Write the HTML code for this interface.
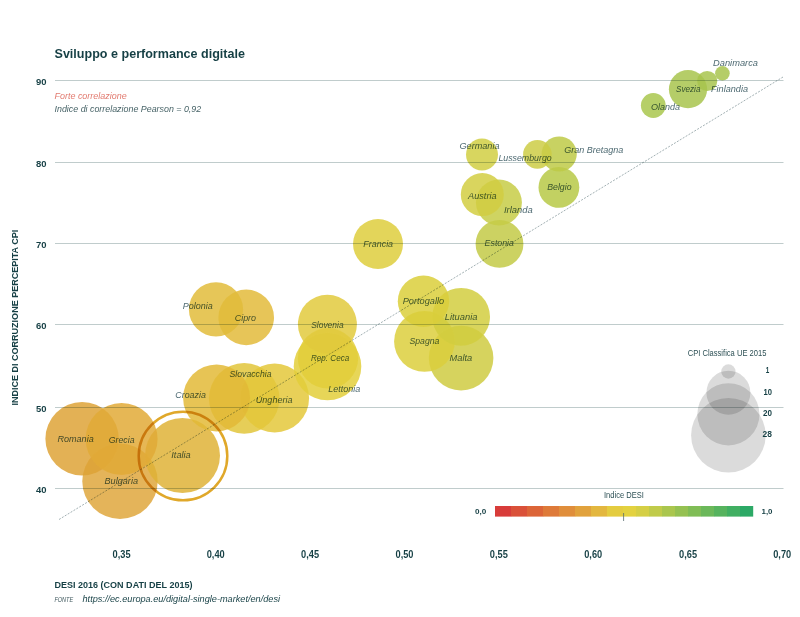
<!DOCTYPE html>
<html><head><meta charset="utf-8"><style>
html,body{margin:0;padding:0;background:#fff;position:relative;}
svg{display:block;font-family:"Liberation Sans", sans-serif;}
text{will-change:transform;}
text.rot{will-change:auto;}
</style></head><body>
<svg width="800" height="617" viewBox="0 0 800 617">
<rect width="800" height="617" fill="#fff"/>
<text x="36" y="84.8" font-size="9.6" font-weight="bold" fill="#153f44" textLength="10.5" lengthAdjust="spacingAndGlyphs">90</text>
<text x="36" y="166.8" font-size="9.6" font-weight="bold" fill="#153f44" textLength="10.5" lengthAdjust="spacingAndGlyphs">80</text>
<text x="36" y="247.8" font-size="9.6" font-weight="bold" fill="#153f44" textLength="10.5" lengthAdjust="spacingAndGlyphs">70</text>
<text x="36" y="328.8" font-size="9.6" font-weight="bold" fill="#153f44" textLength="10.5" lengthAdjust="spacingAndGlyphs">60</text>
<text x="36" y="411.8" font-size="9.6" font-weight="bold" fill="#153f44" textLength="10.5" lengthAdjust="spacingAndGlyphs">50</text>
<text x="36" y="492.8" font-size="9.6" font-weight="bold" fill="#153f44" textLength="10.5" lengthAdjust="spacingAndGlyphs">40</text>
<circle cx="120.0" cy="481.25" r="37.7" fill="#dfa73d" fill-opacity="0.85"/>
<circle cx="182.5" cy="455.5" r="37.5" fill="#dfb337" fill-opacity="0.85"/>
<circle cx="82.1" cy="438.75" r="36.7" fill="#dea337" fill-opacity="0.85"/>
<circle cx="121.6" cy="439.0" r="36.0" fill="#e2aa37" fill-opacity="0.85"/>
<circle cx="244.2" cy="398.4" r="35.3" fill="#e2c53b" fill-opacity="0.85"/>
<circle cx="274.6" cy="398.0" r="34.5" fill="#e4c83b" fill-opacity="0.85"/>
<circle cx="327.5" cy="366.5" r="33.8" fill="#e3cf3b" fill-opacity="0.85"/>
<circle cx="216.6" cy="397.9" r="33.5" fill="#e3ba37" fill-opacity="0.85"/>
<circle cx="461.1" cy="358.1" r="32.3" fill="#cfcb42" fill-opacity="0.85"/>
<circle cx="424.5" cy="341.4" r="30.4" fill="#dccf3d" fill-opacity="0.85"/>
<circle cx="328.0" cy="358.3" r="30.2" fill="#e3cf3b" fill-opacity="0.85"/>
<circle cx="327.4" cy="324.2" r="29.5" fill="#e2ca3d" fill-opacity="0.85"/>
<circle cx="461.1" cy="316.8" r="28.9" fill="#d2ce3f" fill-opacity="0.85"/>
<circle cx="246.2" cy="317.4" r="27.8" fill="#e3bb3b" fill-opacity="0.85"/>
<circle cx="216.0" cy="309.4" r="27.1" fill="#e2bc3b" fill-opacity="0.85"/>
<circle cx="423.5" cy="301.2" r="25.7" fill="#dbcf3b" fill-opacity="0.85"/>
<circle cx="378.0" cy="244.0" r="25.0" fill="#dece3d" fill-opacity="0.85"/>
<circle cx="499.5" cy="243.9" r="23.9" fill="#c3ca46" fill-opacity="0.85"/>
<circle cx="498.9" cy="202.5" r="23.0" fill="#c7cc46" fill-opacity="0.85"/>
<circle cx="482.3" cy="194.6" r="21.5" fill="#d2ce42" fill-opacity="0.85"/>
<circle cx="558.9" cy="187.4" r="20.4" fill="#b7c947" fill-opacity="0.85"/>
<circle cx="688.0" cy="89.2" r="19.1" fill="#a8c44d" fill-opacity="0.85"/>
<circle cx="559.2" cy="154.0" r="17.6" fill="#beca46" fill-opacity="0.85"/>
<circle cx="482.0" cy="154.5" r="16.0" fill="#d1cf43" fill-opacity="0.85"/>
<circle cx="537.4" cy="154.4" r="14.3" fill="#cccc45" fill-opacity="0.85"/>
<circle cx="653.3" cy="105.5" r="12.4" fill="#a9c74d" fill-opacity="0.85"/>
<circle cx="707.2" cy="81.0" r="10.1" fill="#a8c44d" fill-opacity="0.85"/>
<circle cx="722.4" cy="73.3" r="7.3" fill="#a8c44d" fill-opacity="0.85"/>
<circle cx="183.0" cy="456.0" r="44.3" fill="none" stroke="#e0a82a" stroke-width="2.5" style="mix-blend-mode:multiply"/>
<line x1="55" y1="80.5" x2="783.5" y2="80.5" stroke="#c0cccc" stroke-width="1" style="mix-blend-mode:multiply"/>
<line x1="55" y1="162.5" x2="783.5" y2="162.5" stroke="#c0cccc" stroke-width="1" style="mix-blend-mode:multiply"/>
<line x1="55" y1="243.5" x2="783.5" y2="243.5" stroke="#c0cccc" stroke-width="1" style="mix-blend-mode:multiply"/>
<line x1="55" y1="324.5" x2="783.5" y2="324.5" stroke="#c0cccc" stroke-width="1" style="mix-blend-mode:multiply"/>
<line x1="55" y1="407.5" x2="783.5" y2="407.5" stroke="#c0cccc" stroke-width="1" style="mix-blend-mode:multiply"/>
<line x1="55" y1="488.5" x2="783.5" y2="488.5" stroke="#c0cccc" stroke-width="1" style="mix-blend-mode:multiply"/>
<line x1="59" y1="519.5" x2="783" y2="77" stroke="#8a9ca0" stroke-width="0.8" stroke-dasharray="2,1.4" style="mix-blend-mode:multiply"/>
<text x="57.5" y="442.1" font-size="9.9" font-style="italic" fill="#4f6b73" textLength="36.2" lengthAdjust="spacingAndGlyphs" style="mix-blend-mode:multiply">Romania</text>
<text x="108.75" y="442.8" font-size="9.9" font-style="italic" fill="#4f6b73" textLength="25.8" lengthAdjust="spacingAndGlyphs" style="mix-blend-mode:multiply">Grecia</text>
<text x="104.5" y="483.8" font-size="9.9" font-style="italic" fill="#4f6b73" textLength="33.5" lengthAdjust="spacingAndGlyphs" style="mix-blend-mode:multiply">Bulgaria</text>
<text x="171.25" y="457.8" font-size="9.9" font-style="italic" fill="#4f6b73" textLength="19.5" lengthAdjust="spacingAndGlyphs" style="mix-blend-mode:multiply">Italia</text>
<text x="175.3" y="397.9" font-size="9.9" font-style="italic" fill="#4f6b73" textLength="30.6" lengthAdjust="spacingAndGlyphs" style="mix-blend-mode:multiply">Croazia</text>
<text x="229.5" y="376.6" font-size="9.9" font-style="italic" fill="#4f6b73" textLength="42.0" lengthAdjust="spacingAndGlyphs" style="mix-blend-mode:multiply">Slovacchia</text>
<text x="255.8" y="403.2" font-size="9.9" font-style="italic" fill="#4f6b73" textLength="36.7" lengthAdjust="spacingAndGlyphs" style="mix-blend-mode:multiply">Ungheria</text>
<text x="182.7" y="309.4" font-size="9.9" font-style="italic" fill="#4f6b73" textLength="30.0" lengthAdjust="spacingAndGlyphs" style="mix-blend-mode:multiply">Polonia</text>
<text x="234.7" y="321.2" font-size="9.9" font-style="italic" fill="#4f6b73" textLength="21.4" lengthAdjust="spacingAndGlyphs" style="mix-blend-mode:multiply">Cipro</text>
<text x="311.2" y="327.9" font-size="9.9" font-style="italic" fill="#4f6b73" textLength="32.4" lengthAdjust="spacingAndGlyphs" style="mix-blend-mode:multiply">Slovenia</text>
<text x="328.3" y="392.1" font-size="9.9" font-style="italic" fill="#4f6b73" textLength="32.1" lengthAdjust="spacingAndGlyphs" style="mix-blend-mode:multiply">Lettonia</text>
<text x="311.0" y="361.2" font-size="9.9" font-style="italic" fill="#4f6b73" textLength="38.2" lengthAdjust="spacingAndGlyphs" style="mix-blend-mode:multiply">Rep. Ceca</text>
<text x="363.3" y="247.3" font-size="9.9" font-style="italic" fill="#4f6b73" textLength="29.8" lengthAdjust="spacingAndGlyphs" style="mix-blend-mode:multiply">Francia</text>
<text x="402.7" y="304.1" font-size="9.9" font-style="italic" fill="#4f6b73" textLength="41.5" lengthAdjust="spacingAndGlyphs" style="mix-blend-mode:multiply">Portogallo</text>
<text x="409.5" y="344.3" font-size="9.9" font-style="italic" fill="#4f6b73" textLength="29.9" lengthAdjust="spacingAndGlyphs" style="mix-blend-mode:multiply">Spagna</text>
<text x="444.7" y="319.6" font-size="9.9" font-style="italic" fill="#4f6b73" textLength="32.8" lengthAdjust="spacingAndGlyphs" style="mix-blend-mode:multiply">Lituania</text>
<text x="449.6" y="360.8" font-size="9.9" font-style="italic" fill="#4f6b73" textLength="22.7" lengthAdjust="spacingAndGlyphs" style="mix-blend-mode:multiply">Malta</text>
<text x="459.5" y="149.1" font-size="9.9" font-style="italic" fill="#4f6b73" textLength="40.0" lengthAdjust="spacingAndGlyphs" style="mix-blend-mode:multiply">Germania</text>
<text x="468.0" y="198.6" font-size="9.9" font-style="italic" fill="#4f6b73" textLength="28.6" lengthAdjust="spacingAndGlyphs" style="mix-blend-mode:multiply">Austria</text>
<text x="504.0" y="212.7" font-size="9.9" font-style="italic" fill="#4f6b73" textLength="28.8" lengthAdjust="spacingAndGlyphs" style="mix-blend-mode:multiply">Irlanda</text>
<text x="484.6" y="246.4" font-size="9.9" font-style="italic" fill="#4f6b73" textLength="29.4" lengthAdjust="spacingAndGlyphs" style="mix-blend-mode:multiply">Estonia</text>
<text x="498.4" y="161.4" font-size="9.9" font-style="italic" fill="#4f6b73" textLength="53.3" lengthAdjust="spacingAndGlyphs" style="mix-blend-mode:multiply">Lussemburgo</text>
<text x="564.3" y="153.1" font-size="9.9" font-style="italic" fill="#4f6b73" textLength="59.0" lengthAdjust="spacingAndGlyphs" style="mix-blend-mode:multiply">Gran Bretagna</text>
<text x="547.2" y="190.3" font-size="9.9" font-style="italic" fill="#4f6b73" textLength="24.3" lengthAdjust="spacingAndGlyphs" style="mix-blend-mode:multiply">Belgio</text>
<text x="651.0" y="109.9" font-size="9.9" font-style="italic" fill="#4f6b73" textLength="29.0" lengthAdjust="spacingAndGlyphs" style="mix-blend-mode:multiply">Olanda</text>
<text x="676.0" y="91.9" font-size="9.9" font-style="italic" fill="#4f6b73" textLength="24.4" lengthAdjust="spacingAndGlyphs" style="mix-blend-mode:multiply">Svezia</text>
<text x="711.0" y="91.9" font-size="9.9" font-style="italic" fill="#4f6b73" textLength="37.0" lengthAdjust="spacingAndGlyphs" style="mix-blend-mode:multiply">Finlandia</text>
<text x="713.0" y="66.3" font-size="9.9" font-style="italic" fill="#4f6b73" textLength="45.0" lengthAdjust="spacingAndGlyphs" style="mix-blend-mode:multiply">Danimarca</text>
<text x="112.6" y="558.3" font-size="10.1" font-weight="bold" fill="#153f44" textLength="18" lengthAdjust="spacingAndGlyphs">0,35</text>
<text x="206.7" y="558.3" font-size="10.1" font-weight="bold" fill="#153f44" textLength="18" lengthAdjust="spacingAndGlyphs">0,40</text>
<text x="301.1" y="558.3" font-size="10.1" font-weight="bold" fill="#153f44" textLength="18" lengthAdjust="spacingAndGlyphs">0,45</text>
<text x="395.5" y="558.3" font-size="10.1" font-weight="bold" fill="#153f44" textLength="18" lengthAdjust="spacingAndGlyphs">0,50</text>
<text x="489.8" y="558.3" font-size="10.1" font-weight="bold" fill="#153f44" textLength="18" lengthAdjust="spacingAndGlyphs">0,55</text>
<text x="584.2" y="558.3" font-size="10.1" font-weight="bold" fill="#153f44" textLength="18" lengthAdjust="spacingAndGlyphs">0,60</text>
<text x="679.1" y="558.3" font-size="10.1" font-weight="bold" fill="#153f44" textLength="18" lengthAdjust="spacingAndGlyphs">0,65</text>
<text x="773.2" y="558.3" font-size="10.1" font-weight="bold" fill="#153f44" textLength="18" lengthAdjust="spacingAndGlyphs">0,70</text>
<text x="54.5" y="58.0" font-size="13.4" font-weight="bold" fill="#153f44" textLength="190.5" lengthAdjust="spacingAndGlyphs">Sviluppo e performance digitale</text>
<text x="54.5" y="98.5" font-size="9.6" font-style="italic" fill="#e27b70" textLength="72.2" lengthAdjust="spacingAndGlyphs">Forte correlazione</text>
<text x="54.5" y="112.2" font-size="9.6" font-style="italic" fill="#486468" textLength="146.7" lengthAdjust="spacingAndGlyphs">Indice di correlazione Pearson = 0,92</text>
<text x="54.4" y="588" font-size="9.2" font-weight="bold" fill="#153f44" textLength="138.1" lengthAdjust="spacingAndGlyphs">DESI 2016 (CON DATI DEL 2015)</text>
<text x="54.4" y="601.6" font-size="6.8" font-style="italic" fill="#3d565c" textLength="18.8" lengthAdjust="spacingAndGlyphs">FONTE</text>
<text x="82.5" y="602" font-size="9" font-style="italic" fill="#153f44" textLength="197.5" lengthAdjust="spacingAndGlyphs">https://ec.europa.eu/digital-single-market/en/desi</text>
<text x="687.7" y="355.7" font-size="8.8" fill="#2d5055" textLength="78.7" lengthAdjust="spacingAndGlyphs">CPI Classifica UE 2015</text>
<circle cx="728.4" cy="371.5" r="7.2" fill="#000" fill-opacity="0.14"/>
<circle cx="728.4" cy="392.7" r="22.0" fill="#000" fill-opacity="0.14"/>
<circle cx="728.4" cy="414.3" r="31.1" fill="#000" fill-opacity="0.14"/>
<circle cx="728.4" cy="435.3" r="37.3" fill="#000" fill-opacity="0.14"/>
<text x="765.8" y="373.3" font-size="8.6" font-weight="bold" fill="#153f44" textLength="3.5" lengthAdjust="spacingAndGlyphs">1</text>
<text x="763.5" y="394.8" font-size="8.6" font-weight="bold" fill="#153f44" textLength="8.5" lengthAdjust="spacingAndGlyphs">10</text>
<text x="763.0" y="416.1" font-size="8.6" font-weight="bold" fill="#153f44" textLength="9" lengthAdjust="spacingAndGlyphs">20</text>
<text x="762.6" y="437.2" font-size="8.6" font-weight="bold" fill="#153f44" textLength="9.4" lengthAdjust="spacingAndGlyphs">28</text>
<text x="604" y="497.8" font-size="8.6" fill="#2d5055" textLength="39.8" lengthAdjust="spacingAndGlyphs">Indice DESI</text>
<rect x="495.0" y="506" width="16.2" height="10.6" fill="#d83c3a"/>
<rect x="511.0" y="506" width="16.2" height="10.6" fill="#da5139"/>
<rect x="527.0" y="506" width="16.2" height="10.6" fill="#dc6538"/>
<rect x="543.0" y="506" width="16.2" height="10.6" fill="#de7a39"/>
<rect x="559.0" y="506" width="16.2" height="10.6" fill="#e08e3b"/>
<rect x="575.0" y="506" width="16.2" height="10.6" fill="#e1a23d"/>
<rect x="591.0" y="506" width="16.2" height="10.6" fill="#e3b73f"/>
<rect x="607.0" y="506" width="16.2" height="10.6" fill="#e4cc40"/>
<rect x="623.0" y="506" width="13.2" height="10.6" fill="#e3d240"/>
<rect x="636.0" y="506" width="13.2" height="10.6" fill="#d5cf45"/>
<rect x="649.0" y="506" width="13.2" height="10.6" fill="#c0cb4a"/>
<rect x="662.0" y="506" width="13.2" height="10.6" fill="#aac64e"/>
<rect x="675.0" y="506" width="13.2" height="10.6" fill="#95c152"/>
<rect x="688.0" y="506" width="13.2" height="10.6" fill="#80bd56"/>
<rect x="701.0" y="506" width="13.2" height="10.6" fill="#6bb85a"/>
<rect x="714.0" y="506" width="13.2" height="10.6" fill="#56b35e"/>
<rect x="727.0" y="506" width="13.2" height="10.6" fill="#41af62"/>
<rect x="740.0" y="506" width="13.2" height="10.6" fill="#2ca966"/>
<line x1="623.6" y1="513" x2="623.6" y2="521" stroke="#55696f" stroke-width="0.8"/>
<text x="475" y="514.3" font-size="8" font-weight="bold" fill="#153f44" textLength="11.3" lengthAdjust="spacingAndGlyphs">0,0</text>
<text x="761.5" y="514.3" font-size="8" font-weight="bold" fill="#153f44" textLength="11" lengthAdjust="spacingAndGlyphs">1,0</text>
</svg>
<div style="position:absolute;left:0;top:0;width:30px;height:617px;will-change:transform"><div style="position:absolute;left:0;top:0;transform-origin:0 0;transform:translate(9.6px,405.5px) rotate(-90deg) scaleX(0.92);font:bold 9.8px/10px 'Liberation Sans',sans-serif;color:#153f44;white-space:nowrap">INDICE DI CORRUZIONE PERCEPITA CPI</div></div>
</body></html>
